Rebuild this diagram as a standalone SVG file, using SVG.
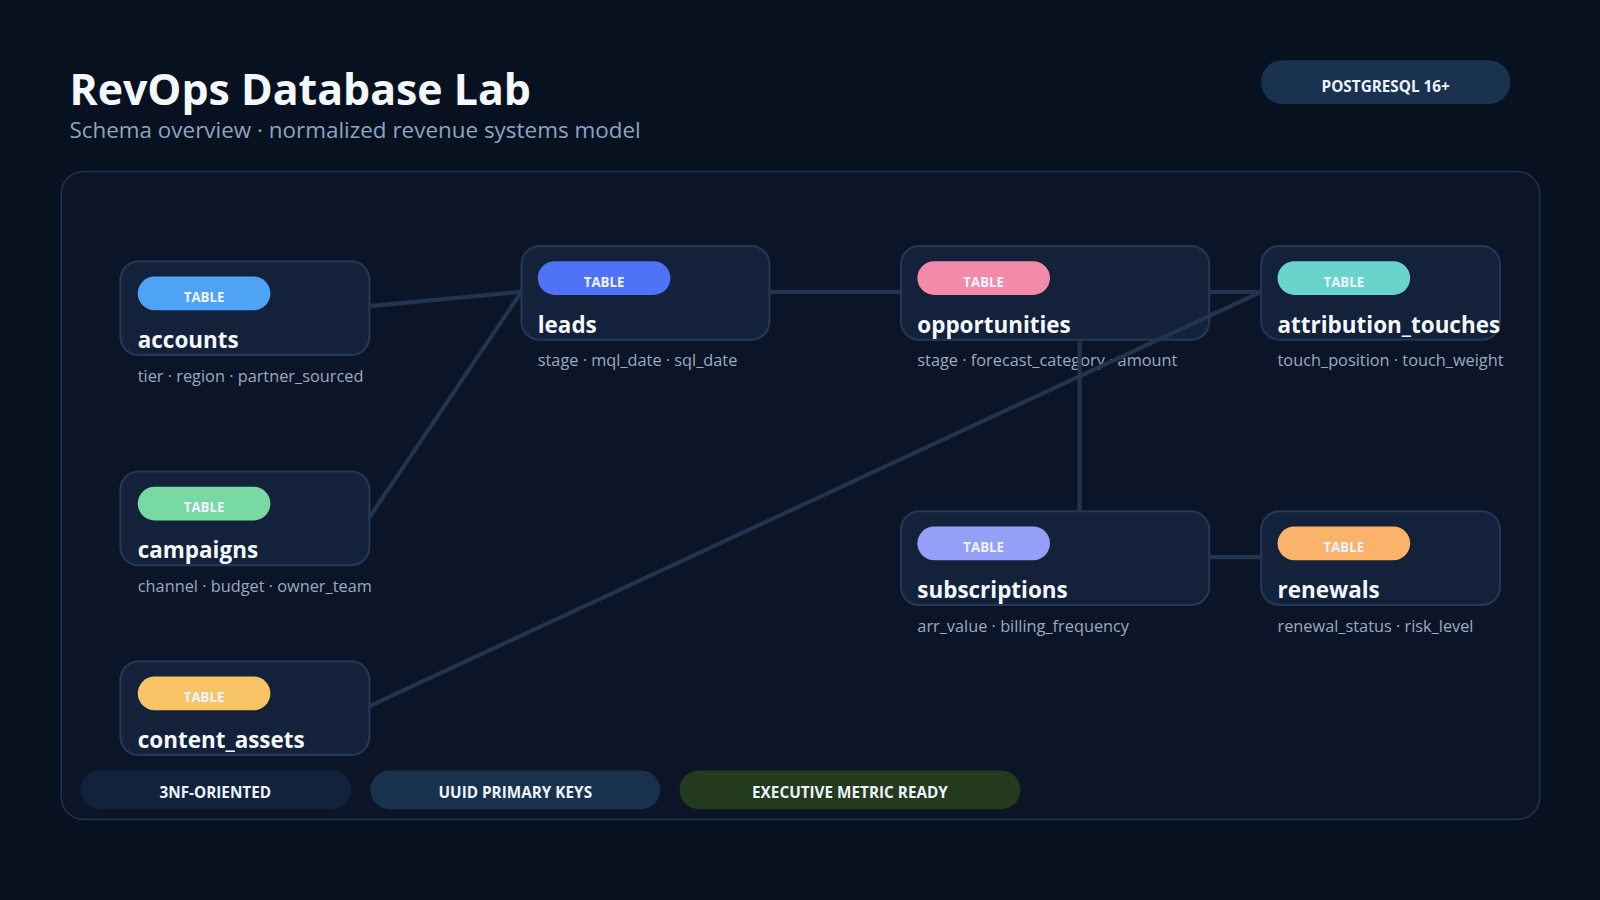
<svg xmlns="http://www.w3.org/2000/svg" width="1600" height="900" viewBox="0 0 1600 900">
<style>
text{font-family:"Open Sans","Noto Sans",sans-serif}
.box{fill:#13223a;stroke:#24385a;stroke-width:2}
.pt{fill:#eef3ff;font-size:13px;font-weight:700;text-anchor:middle}
.nm{fill:#f4f7fc;font-size:22px;font-weight:700}
.fd{fill:#9aa9c2;font-size:16px}
.bt{fill:#eef3ff;font-size:15px;font-weight:700;text-anchor:middle}
#connectors line{stroke:#22344f;stroke-width:4}
</style>
<rect width="1600" height="900" fill="#08111f"/>
<g transform="scale(1.0204)">
<text x="68" y="103" fill="#f4f7fc" font-size="42" font-weight="700">RevOps Database Lab</text>
<text x="68" y="135" fill="#8ea3c2" font-size="22">Schema overview · normalized revenue systems model</text>
<rect x="1236" y="59" width="244" height="43" rx="21" fill="#183250"/>
<text x="1358" y="90" class="bt" font-size="17">POSTGRESQL 16+</text>
<rect x="60" y="168" width="1449" height="635" rx="22" fill="#0c1527" stroke="#1e3350" stroke-width="1.5"/>
<g id="accounts"><rect class="box" x="118" y="256" width="244" height="92" rx="18"/><rect x="135" y="271" width="130" height="33" rx="16.5" fill="#4fa3f7"/><text class="pt" x="200" y="296">TABLE</text><text class="nm" x="135" y="341">accounts</text><text class="fd" x="135" y="374">tier · region · partner_sourced</text></g>
<g id="leads"><rect class="box" x="511" y="241" width="243" height="92" rx="18"/><rect x="527" y="256" width="130" height="33" rx="16.5" fill="#4f72f7"/><text class="pt" x="592" y="281">TABLE</text><text class="nm" x="527" y="326">leads</text><text class="fd" x="527" y="359">stage · mql_date · sql_date</text></g>
<g id="opportunities"><rect class="box" x="883" y="241" width="302" height="92" rx="18"/><rect x="899" y="256" width="130" height="33" rx="16.5" fill="#f38ba8"/><text class="pt" x="964" y="281">TABLE</text><text class="nm" x="899" y="326">opportunities</text><text class="fd" x="899" y="359">stage · forecast_category · amount</text></g>
<g id="attribution_touches"><rect class="box" x="1236" y="241" width="234" height="92" rx="18"/><rect x="1252" y="256" width="130" height="33" rx="16.5" fill="#6ad3cc"/><text class="pt" x="1317" y="281">TABLE</text><text class="nm" x="1252" y="326">attribution_touches</text><text class="fd" x="1252" y="359">touch_position · touch_weight</text></g>
<g id="campaigns"><rect class="box" x="118" y="462" width="244" height="92" rx="18"/><rect x="135" y="477" width="130" height="33" rx="16.5" fill="#78d9a3"/><text class="pt" x="200" y="502">TABLE</text><text class="nm" x="135" y="547">campaigns</text><text class="fd" x="135" y="580">channel · budget · owner_team</text></g>
<g id="content_assets"><rect class="box" x="118" y="648" width="244" height="92" rx="18"/><rect x="135" y="663" width="130" height="33" rx="16.5" fill="#f7c566"/><text class="pt" x="200" y="688">TABLE</text><text class="nm" x="135" y="733">content_assets</text></g>
<g id="subscriptions"><rect class="box" x="883" y="501" width="302" height="92" rx="18"/><rect x="899" y="516" width="130" height="33" rx="16.5" fill="#949ff7"/><text class="pt" x="964" y="541">TABLE</text><text class="nm" x="899" y="586">subscriptions</text><text class="fd" x="899" y="619">arr_value · billing_frequency</text></g>
<g id="renewals"><rect class="box" x="1236" y="501" width="234" height="92" rx="18"/><rect x="1252" y="516" width="130" height="33" rx="16.5" fill="#fbb26a"/><text class="pt" x="1317" y="541">TABLE</text><text class="nm" x="1252" y="586">renewals</text><text class="fd" x="1252" y="619">renewal_status · risk_level</text></g>
<g id="connectors">
<line x1="362" y1="300" x2="511" y2="286"/>
<line x1="362" y1="507" x2="511" y2="286"/>
<line x1="754" y1="286" x2="883" y2="286"/>
<line x1="1185" y1="286" x2="1236" y2="286"/>
<line x1="362" y1="692" x2="1236" y2="286"/>
<line x1="1058" y1="333" x2="1058" y2="500"/>
<line x1="1185" y1="546" x2="1236" y2="546"/>
</g>
<g id="badges">
<rect x="79" y="755" width="265" height="38" rx="19" fill="#12223d"/><text class="bt" x="211" y="782">3NF-ORIENTED</text>
<rect x="363" y="755" width="284" height="38" rx="19" fill="#18324d"/><text class="bt" x="505" y="782">UUID PRIMARY KEYS</text>
<rect x="666" y="755" width="334" height="38" rx="19" fill="#233a1c"/><text class="bt" x="833" y="782">EXECUTIVE METRIC READY</text>
</g>
</g>
</svg>
